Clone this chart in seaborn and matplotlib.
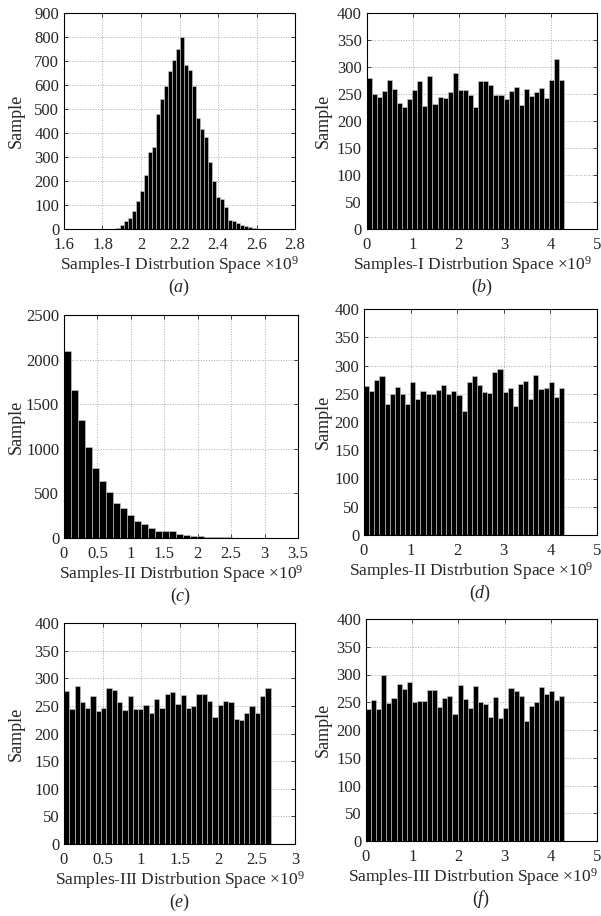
import matplotlib
matplotlib.use("Agg")
import matplotlib.pyplot as plt
import numpy as np
import pandas as pd
import seaborn as sns
from matplotlib.ticker import FuncFormatter

sns.set_style("ticks")
plt.rcParams["font.family"] = ["Liberation Serif", "DejaVu Serif"]
plt.rcParams["mathtext.fontset"] = "custom"
plt.rcParams["mathtext.rm"] = "Liberation Serif"
plt.rcParams["mathtext.it"] = "Liberation Serif:italic"

# (a) Samples-I, normal-like distribution
a_start, a_width = 1.8278, 0.02075
a_counts = [2, 1, 5, 18, 35, 44, 77, 117, 160, 224, 322, 341, 481, 542, 596, 658,
            705, 749, 802, 684, 661, 594, 464, 417, 383, 278, 200, 135, 126, 91,
            39, 32, 25, 15, 11, 8, 3]

# (b) Samples-I, uniform over [0, 2^32)
b_max = 4.295
b_counts = [279, 250, 244, 255, 276, 260, 234, 225, 240, 257, 274, 227, 284, 232,
            245, 243, 254, 289, 257, 257, 249, 226, 274, 274, 267, 248, 248, 241,
            255, 263, 229, 259, 247, 254, 262, 243, 276, 315, 276]

# (c) Samples-II, exponential-like distribution
c_width = 0.1048
c_counts = [2098, 1662, 1322, 1016, 787, 635, 521, 395, 332, 258, 193, 159, 115, 81,
            81, 81, 46, 30, 28, 22, 8, 16, 8, 6, 5, 4, 4, 3, 3, 2, 2, 1]

# (d) Samples-II, uniform
d_max = 4.295
d_counts = [263, 255, 274, 281, 232, 250, 262, 249, 231, 270, 241, 255, 250, 250,
            256, 265, 249, 255, 248, 220, 270, 281, 265, 253, 251, 289, 293, 253,
            260, 229, 267, 272, 241, 283, 258, 260, 271, 245, 260]

# (e) Samples-III, uniform over a smaller range
e_max = 2.683
e_counts = [277, 244, 286, 257, 246, 268, 241, 247, 283, 278, 257, 243, 268, 244,
            244, 251, 237, 263, 247, 271, 275, 253, 269, 247, 249, 272, 272, 259,
            229, 252, 259, 257, 226, 225, 238, 250, 238, 268, 282]

# (f) Samples-III, uniform
f_max = 4.295
f_counts = [238, 254, 238, 300, 249, 257, 282, 274, 286, 250, 252, 252, 272, 272,
            242, 258, 261, 229, 281, 255, 239, 279, 250, 246, 223, 259, 221, 239,
            275, 270, 261, 216, 243, 250, 277, 264, 271, 254, 261]

panels = [
    dict(tag="a", name="I", edges=a_start + a_width * np.arange(len(a_counts) + 1),
         counts=a_counts, xlim=(1.6, 2.8), xticks=[1.6, 1.8, 2, 2.2, 2.4, 2.6, 2.8],
         ylim=(0, 900), yticks=range(0, 901, 100)),
    dict(tag="b", name="I", edges=np.linspace(0, b_max, len(b_counts) + 1),
         counts=b_counts, xlim=(0, 5), xticks=range(0, 6),
         ylim=(0, 400), yticks=range(0, 401, 50)),
    dict(tag="c", name="II", edges=c_width * np.arange(len(c_counts) + 1),
         counts=c_counts, xlim=(0, 3.5), xticks=[0, 0.5, 1, 1.5, 2, 2.5, 3, 3.5],
         ylim=(0, 2500), yticks=range(0, 2501, 500)),
    dict(tag="d", name="II", edges=np.linspace(0, d_max, len(d_counts) + 1),
         counts=d_counts, xlim=(0, 5), xticks=range(0, 6),
         ylim=(0, 400), yticks=range(0, 401, 50)),
    dict(tag="e", name="III", edges=np.linspace(0, e_max, len(e_counts) + 1),
         counts=e_counts, xlim=(0, 3), xticks=[0, 0.5, 1, 1.5, 2, 2.5, 3],
         ylim=(0, 400), yticks=range(0, 401, 50)),
    dict(tag="f", name="III", edges=np.linspace(0, f_max, len(f_counts) + 1),
         counts=f_counts, xlim=(0, 5), xticks=range(0, 6),
         ylim=(0, 400), yticks=range(0, 401, 50)),
]

# axes boxes in pixels: left, top, right, bottom
boxes = [(64, 13, 295, 229), (366.5, 13, 597, 229),
         (64, 315, 298, 538), (364, 309, 597, 535),
         (64, 623, 295, 844), (366, 619, 597, 841)]

W, H = 601, 916
fig = plt.figure(figsize=(W / 100, H / 100), dpi=100)

for i, (p, (l, t, r, b)) in enumerate(zip(panels, boxes)):
    ax = fig.add_axes([l / W, 1 - b / H, (r - l) / W, (b - t) / H])
    edges = [float(e) for e in p["edges"]]
    df = pd.DataFrame({
        "x": [(lo + hi) / 2 for lo, hi in zip(edges[:-1], edges[1:])],
        "n": p["counts"],
    })
    sns.histplot(data=df, x="x", weights="n", bins=edges, ax=ax,
                 color="black", edgecolor="#d0d0d0", linewidth=0.4, alpha=1)
    ax.set_xlim(*p["xlim"])
    ax.set_ylim(*p["ylim"])
    ax.set_xticks(list(p["xticks"]))
    ax.set_yticks(list(p["yticks"]))
    ax.xaxis.set_major_formatter(FuncFormatter(lambda v, _: f"{v:g}"))
    ax.grid(True, ls=":", color="#aaaaaa", lw=0.7)
    ax.set_axisbelow(True)
    for s in ax.spines.values():
        s.set_color("black")
        s.set_linewidth(0.8)
    ax.tick_params(direction="in", top=True, right=True, length=3, width=0.6,
                   labelsize=12)
    ax.tick_params(axis="x", pad=5.5)
    ax.tick_params(axis="y", pad=3.5)

    w_px, h_px = r - l, b - t
    right_col = i % 2 == 1
    ax.set_ylabel("Sample", fontsize=13)
    ax.yaxis.set_label_coords(((332 if right_col else 25) - l) / w_px, 0.5)
    ax.set_xlabel(f"Samples-{p['name']} Distrbution Space ×10$^9$", fontsize=12.5)
    ax.xaxis.set_label_coords(0.5 - (9 if right_col else 0) / w_px, -25 / h_px)
    ax.text(0.5, -58 / h_px, "($\\mathit{" + p["tag"] + "}$)", transform=ax.transAxes,
            ha="center", va="center", fontsize=13)

fig.savefig("out.png", dpi=100)
